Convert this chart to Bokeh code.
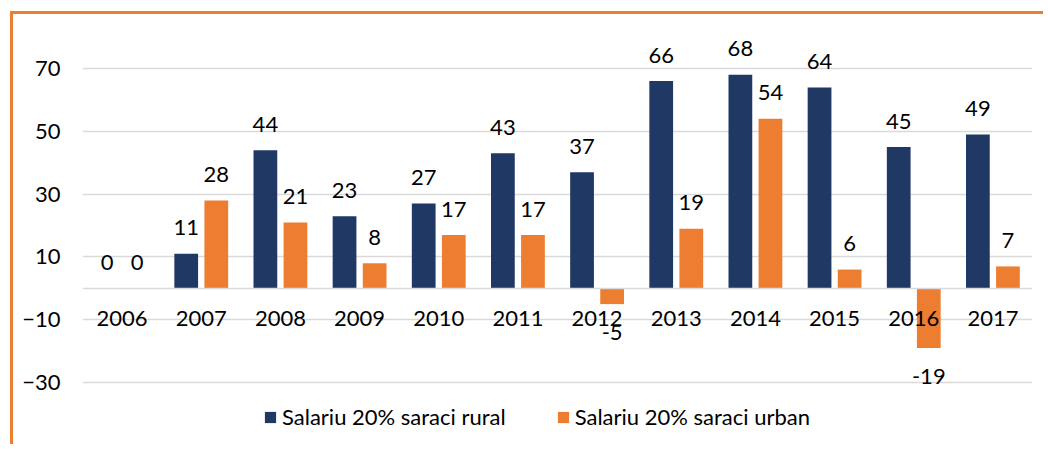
from bokeh.plotting import figure
from bokeh.models import FactorRange, Range1d, FixedTicker, ColumnDataSource, Legend, LegendItem
from bokeh.core.properties import value
from bokeh.transform import dodge
from bokeh.embed import file_html
from bokeh.resources import INLINE

years = ["2006", "2007", "2008", "2009", "2010", "2011", "2012", "2013", "2014", "2015", "2016", "2017"]
rural = [0, 11, 44, 23, 27, 43, 37, 66, 68, 64, 45, 49]
urban = [0, 28, 21, 8, 17, 17, -5, 19, 54, 6, -19, 7]
y_ticks = [-30, -10, 10, 30, 50, 70]
series_names = ["Salariu 20% saraci rural", "Salariu 20% saraci urban"]

NAVY = "#203864"
ORANGE = "#ED7D31"
FONT = "Lato"

src = ColumnDataSource(dict(
    years=years, rural=rural, urban=urban,
    rural_lbl=[str(v) for v in rural], urban_lbl=[str(v) for v in urban],
    rural_off=[-26 if v >= 0 else 28 for v in rural],
    urban_off=[-26 if v >= 0 else 28 for v in urban],
))

p = figure(x_range=FactorRange(*years), y_range=Range1d(-49.7, 83.7),
           width=1033, height=433, output_backend="svg", toolbar_location=None,
           min_border_left=69, min_border_right=14, min_border_top=11, min_border_bottom=3)
p.styles = {"border-top": "3px solid " + ORANGE, "border-left": "3px solid " + ORANGE,
            "margin-left": "10px", "margin-top": "11px"}
p.outline_line_color = None
p.background_fill_color = "white"

r1 = p.vbar(x=dodge("years", -0.19, range=p.x_range), top="rural", bottom=0, width=0.30,
            source=src, fill_color=NAVY, line_color=None)
r2 = p.vbar(x=dodge("years", 0.19, range=p.x_range), top="urban", bottom=0, width=0.30,
            source=src, fill_color=ORANGE, line_color=None)

p.text(x=dodge("years", -0.19, range=p.x_range), y="rural", text="rural_lbl", y_offset="rural_off",
       source=src, text_align="center", text_baseline="middle", text_font=value(FONT),
       text_font_size="22px", text_color="#000000")
p.text(x=dodge("years", 0.19, range=p.x_range), y="urban", text="urban_lbl", y_offset="urban_off",
       source=src, text_align="center", text_baseline="middle", text_font=value(FONT),
       text_font_size="22px", text_color="#000000")

p.xgrid.visible = False
p.ygrid.ticker = FixedTicker(ticks=y_ticks)
p.ygrid.grid_line_color = "#D9D9D9"
p.ygrid.grid_line_width = 1.5

p.yaxis.ticker = FixedTicker(ticks=y_ticks)
p.yaxis.axis_line_color = None
p.yaxis.major_tick_line_color = None
p.yaxis.minor_tick_line_color = None
p.yaxis.major_label_standoff = 16
p.yaxis.major_label_text_font = FONT
p.yaxis.major_label_text_font_size = "22px"
p.yaxis.major_label_text_color = "#000000"

p.xaxis.fixed_location = 0
p.xaxis.axis_line_color = "#D9D9D9"
p.xaxis.axis_line_width = 1.5
p.xaxis.major_tick_line_color = None
p.xaxis.minor_tick_line_color = None
p.xaxis.major_label_standoff = 17
p.xaxis.major_label_text_font = FONT
p.xaxis.major_label_text_font_size = "22px"
p.xaxis.major_label_text_color = "#000000"

legend = Legend(items=[LegendItem(label=series_names[0], renderers=[r1]),
                       LegendItem(label=series_names[1], renderers=[r2])],
                orientation="horizontal", location=(181, 14))
legend.label_text_font = FONT
legend.label_text_font_size = "22px"
legend.label_text_color = "#000000"
legend.glyph_width = 14
legend.glyph_height = 14
legend.spacing = 50
legend.label_standoff = 5
legend.padding = 0
legend.margin = 0
legend.border_line_color = None
legend.background_fill_alpha = 0
p.add_layout(legend)

open("out.html", "w").write(file_html(p, INLINE))
